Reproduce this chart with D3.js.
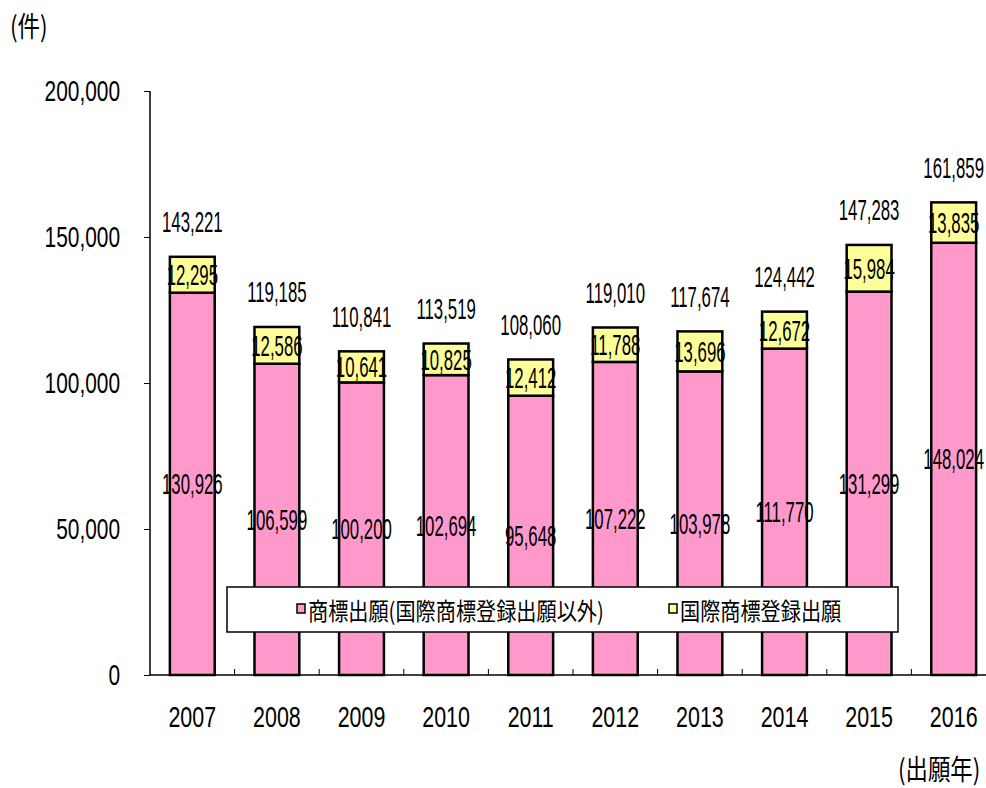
<!DOCTYPE html>
<html><head><meta charset="utf-8">
<script src="https://cdn.jsdelivr.net/npm/d3@7"></script>
<style>body{margin:0;background:#fff;} svg{display:block;}</style>
</head><body>
<script>
const years = ["2007","2008","2009","2010","2011","2012","2013","2014","2015","2016"];
const domestic = [130926,106599,100200,102694,95648,107222,103978,111770,131299,148024];
const international = [12295,12586,10641,10825,12412,11788,13696,12672,15984,13835];
const totals = [143221,119185,110841,113519,108060,119010,117674,124442,147283,161859];
const yTicks = [0,50000,100000,150000,200000];
const seriesNames = ["商標出願(国際商標登録出願以外)","国際商標登録出願"];
const seriesColors = ["#FF99CC","#FFFF99"];

const W=986,H=788;
const svg=d3.select("body").append("svg").attr("width",W).attr("height",H);
const font="'Liberation Sans', Arial, sans-serif";
const cjk="'Noto Sans CJK JP', sans-serif";

const x=d3.scaleBand().domain(years).range([150,996]).paddingInner(0.47).paddingOuter(0.235);
const y=d3.scaleLinear().domain([0,200000]).range([675,91]);
const fmt=d3.format(",");

function txt(g,xx,yy,s,opt){
  const t=g.append("g").attr("transform",`translate(${xx},${yy})`)
   .append("text").attr("transform",`scale(${opt.sx||1},1)`)
   .attr("text-anchor",opt.anchor||"middle").attr("dominant-baseline","central")
   .style("font-family",opt.family||font).style("font-size",(opt.size||28)+"px")
   .style("font-weight",opt.weight||"normal").attr("fill","#000").text(s);
  return t;
}

// bars
const data=years.map((yr,i)=>({yr,d:domestic[i],n:international[i],t:totals[i]}));
const g=svg.append("g");
g.selectAll("rect.dom").data(data).join("rect").attr("class","dom")
 .attr("x",d=>x(d.yr)).attr("width",x.bandwidth())
 .attr("y",d=>y(d.d)).attr("height",d=>y(0)-y(d.d))
 .attr("fill",seriesColors[0]).attr("stroke","#000").attr("stroke-width",2.5);
g.selectAll("rect.int").data(data).join("rect").attr("class","int")
 .attr("x",d=>x(d.yr)).attr("width",x.bandwidth())
 .attr("y",d=>y(d.t)).attr("height",d=>y(d.d)-y(d.t))
 .attr("fill",seriesColors[1]).attr("stroke","#000").attr("stroke-width",2.5);

// axes
const ax=svg.append("g").attr("transform","translate(150,0)")
 .call(d3.axisLeft(y).tickValues(yTicks).tickSize(6).tickFormat(""));
ax.select(".domain").attr("stroke","#000").attr("stroke-width",1.5).attr("d","M0,91V675");
ax.selectAll(".tick line").attr("stroke","#000");
yTicks.forEach(v=>txt(svg,120,y(v),fmt(v),{anchor:"end",size:29,sx:0.72}));

// x baseline
svg.append("line").attr("x1",150).attr("x2",996).attr("y1",675).attr("y2",675).attr("stroke","#000").attr("stroke-width",1.5);
const bounds=years.slice(1).map(yr=>x(yr)-x.step()*x.paddingInner()/2);
svg.selectAll("line.xt").data(bounds).join("line").attr("class","xt")
 .attr("x1",d=>d).attr("x2",d=>d).attr("y1",669).attr("y2",675).attr("stroke","#000");
years.forEach(yr=>txt(svg,x(yr)+x.bandwidth()/2,717,yr,{size:29,sx:0.74}));

// value labels
data.forEach(d=>{
  const cx=x(d.yr)+x.bandwidth()/2;
  txt(svg,cx,(y(d.d)+y(0))/2,fmt(d.d),{size:30,sx:0.56});
  txt(svg,cx,(y(d.t)+y(d.d))/2,fmt(d.n),{size:30,sx:0.56});
  txt(svg,cx,y(d.t)-35,fmt(d.t),{size:30,sx:0.56});
});

// legend
svg.append("rect").attr("x",227).attr("y",587).attr("width",671).attr("height",45)
 .attr("fill","#fff").attr("stroke","#000").attr("stroke-width",1.5);
const lx=[297,669];
seriesNames.forEach((n,i)=>{
  svg.append("rect").attr("x",lx[i]).attr("y",604).attr("width",8).attr("height",9)
   .attr("fill",seriesColors[i]).attr("stroke","#000").attr("stroke-width",1.5);
  txt(svg,lx[i]+11,609,n,{anchor:"start",family:cjk,size:24,sx:0.84});
});

txt(svg,10,25,"(件)",{anchor:"start",family:cjk,size:28,sx:0.8});
txt(svg,898,768,"(出願年)",{anchor:"start",family:cjk,size:28,sx:0.8});
</script>
</body></html>
